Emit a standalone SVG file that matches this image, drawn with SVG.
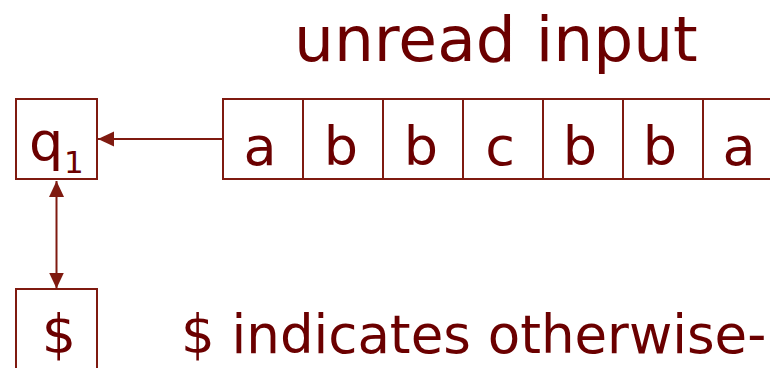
<svg xmlns="http://www.w3.org/2000/svg" width="770" height="368" viewBox="0 0 770 368">
<style>
.box{fill:#fff;stroke:#7f1a10;stroke-width:2}
.t{font-family:"DejaVu Sans","Verdana",sans-serif;fill:#6b0000}
.cell{font-size:54px;text-anchor:middle}
.edge{stroke:#7f1a10;stroke-width:2;fill:none}
</style>
<defs>
<marker id="ah" markerUnits="userSpaceOnUse" markerWidth="16" markerHeight="16" viewBox="0 0 16 16" refX="16" refY="8" orient="auto-start-reverse">
<path d="M0,0.5 L16,8 L0,15.5 Z" fill="#7f1a10"/>
</marker>
</defs>
<rect width="770" height="368" fill="#fff"/>
<text class="t" x="294" y="61" font-size="63">unread input</text>
<g id="q1">
<rect class="box" x="16" y="99" width="81" height="80"/>
<text class="t" x="29" y="160" font-size="54">q</text>
<text class="t" x="64" y="172.5" font-size="31">1</text>
</g>
<g id="tape">
<rect class="box" x="223" y="99" width="560" height="80"/>
<path class="edge" d="M303,99V179M383,99V179M463,99V179M543,99V179M623,99V179M703,99V179"/>
<text class="t cell" x="260" y="165">a</text>
<text class="t cell" x="341" y="165">b</text>
<text class="t cell" x="421" y="165">b</text>
<text class="t cell" x="500" y="165">c</text>
<text class="t cell" x="580" y="165">b</text>
<text class="t cell" x="660" y="165">b</text>
<text class="t cell" x="739" y="165">a</text>
</g>
<g id="stack">
<rect class="box" x="16" y="289" width="81" height="90"/>
<text class="t" x="59" y="353" font-size="54" text-anchor="middle">$</text>
</g>
<g id="connectors">
<line class="edge" x1="223" y1="139" x2="98" y2="139" marker-end="url(#ah)"/>
<line class="edge" x1="56.5" y1="181" x2="56.5" y2="288.5" marker-start="url(#ah)" marker-end="url(#ah)"/>
</g>
<text class="t" x="181" y="353" font-size="53">$ indicates otherwise-</text>
</svg>
